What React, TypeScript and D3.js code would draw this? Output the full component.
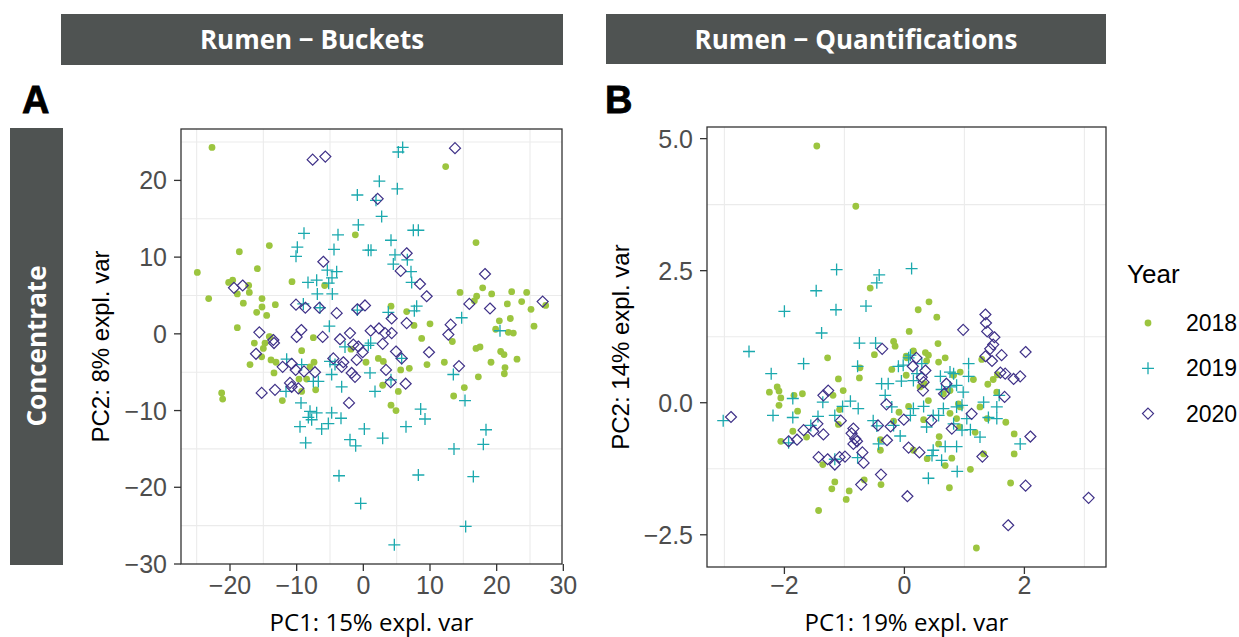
import React from "react";
import * as d3 from "d3";

// Panel A: Rumen - Buckets (PC1 x PC2 scores)
const bucketsX2018 = [-22.7,-24.9,-23.2,-18.6,-14.1,-15.9,-20.2,-19.6,-17.2,-17.1,-18.9,-18.0,-15.2,-15.2,-16.0,-14.5,-13.2,-18.9,-10.7,-5.8,-1.2,-14.0,-7.5,12.35,16.9,14.5,17.9,17.0,16.65,19.25,22.25,24.5,21.6,23.75,25.15,27.35,4.15,6.5,10.0,7.6,20.4,22.05,25.6,19.85,21.75,22.5,8.75,-21.25,-21.1,-16.35,-14.75,-15.0,-15.25,-14.1,-17.0,-13.85,-13.1,-13.4,-12.15,-9.25,-7.4,-8.0,-8.5,-9.65,-9.25,-7.15,-1.85,13.35,16.9,17.5,20.6,21.1,23.05,19.15,21.25,21.15,17.25,15.15,13.55,12.15,9.55,6.9,5.6,2.25,3.0,0.4,5.25,2.9,4.15,4.9];
const bucketsY2018 = [24.3,8.0,4.6,10.7,11.5,8.5,6.7,7.0,6.3,5.4,5.2,4.0,4.6,3.5,2.8,2.4,3.8,0.8,6.8,6.3,12.9,-0.4,-0.5,21.8,11.9,5.4,6.0,4.9,4.3,5.2,5.5,5.4,3.9,4.2,3.2,3.7,3.6,2.9,1.3,1.1,1.7,2.0,1.0,0.6,0.2,0.1,-0.6,-7.7,-8.5,-1.2,-1.2,-1.9,-3.0,-0.35,-4.0,-3.4,-3.7,-5.1,-8.7,-2.2,-3.7,-4.3,-5.9,-5.9,-7.5,-7.3,-2.0,-1.0,-1.9,-1.7,-2.3,-2.7,-3.3,-3.7,-4.4,-5.2,-5.6,-7.0,-8.1,-3.7,-4.0,-4.5,-4.7,-3.2,-3.6,-3.7,-7.5,-6.7,-9.3,-10.0];
const bucketsX2019 = [-8.9,-9.9,-10.1,-3.8,-4.4,-0.9,-0.75,-5.4,-4.0,-4.7,-5.2,-8.3,-7.0,-6.9,-4.65,-9.0,-6.5,-0.9,-5.1,5.9,5.25,2.4,5.1,1.9,2.75,7.5,8.25,4.15,0.75,1.15,4.75,4.5,6.6,7.15,7.25,3.75,8.0,7.65,14.75,20.5,-11.5,-9.25,-11.6,-9.35,-8.0,-7.0,-8.25,-7.75,-9.5,-6.25,-5.25,-4.75,-3.35,-8.65,-7.5,-6.75,-5.0,-4.25,-4.75,-3.25,-2.0,-1.15,-3.65,-2.75,-0.4,1.1,0.75,5.75,1.0,4.15,1.75,13.5,15.25,8.6,9.25,6.4,0.15,2.9,18.4,18.0,13.6,8.25,16.5,15.35,4.65];
const bucketsY2019 = [13.1,11.3,10.1,12.9,11.0,18.1,14.2,8.3,8.1,7.3,6.6,6.7,7.0,5.2,5.2,3.9,3.4,3.1,1.0,24.3,23.7,19.9,18.9,17.4,15.3,13.5,13.5,12.2,10.9,10.9,10.3,9.1,9.65,8.1,6.7,2.8,3.6,3.0,2.1,0.4,-3.3,-4.0,-7.5,-9.0,-10.1,-10.3,-10.9,-11.2,-12.1,-12.4,-11.7,-10.3,-11.0,-14.2,-6.2,-6.2,-3.6,-4.0,-5.3,-6.9,-13.8,-14.6,-18.5,-1.7,-22.1,-1.2,-1.5,-3.2,-5.1,-6.0,-7.5,-5.3,-8.7,-9.8,-11.1,-12.1,-12.4,-13.6,-12.5,-14.4,-15.0,-18.4,-18.6,-25.1,-27.5];
const bucketsX2020 = [-7.6,-5.7,-6.0,-19.4,-18.1,-10.1,-8.7,-6.6,-4.0,-0.9,-15.6,-9.3,-10.0,-6.1,-3.5,-2.0,-13.5,13.75,2.15,6.5,5.6,8.5,9.5,18.25,15.9,19.0,26.9,0.25,4.25,6.5,1.1,2.35,3.25,4.25,13.1,12.75,-13.4,-16.1,-12.1,-10.75,-10.15,-11.0,-10.75,-9.75,-15.25,-13.25,-8.9,-7.25,-1.5,-4.5,-3.0,-3.25,-1.0,-1.75,-1.25,-2.15,2.9,-0.75,-0.1,4.9,5.75,9.85,14.35,3.4,4.1,6.35];
const bucketsY2020 = [22.7,23.1,9.4,6.0,6.3,3.8,3.4,3.4,2.7,3.2,0.2,0.5,-0.4,-0.4,-0.7,0.1,-0.8,24.2,17.6,10.5,8.2,6.5,4.9,7.8,3.9,3.3,4.2,3.7,2.0,1.4,0.4,0.7,0.1,0.1,1.2,-0.1,-1.2,-2.6,-4.3,-3.9,-4.7,-6.4,-6.9,-7.1,-7.7,-7.3,-4.9,-5.0,-1.4,-3.2,-3.7,-4.3,-3.4,-5.1,-5.6,-9.0,-1.3,-1.65,-2.4,-2.3,-3.2,-2.4,-4.2,-4.7,-6.3,-6.5];

// Panel B: Rumen - Quantifications
const quantX2018 = [-1.46,-0.81,-0.57,0.08,-0.18,-0.155,0.41,0.23,0.54,0.56,-1.28,-1.1,-1.02,-0.75,-0.74,-0.5,-0.21,0.03,0.03,-2.25,-2.12,-2.09,-2.06,-2.09,-1.84,-1.7,-1.78,-1.19,-1.08,-1.1,-1.86,-1.63,-2.06,-0.09,0.07,-0.18,-0.4,-0.4,-1.36,-1.16,-1.21,-0.92,-0.97,-0.67,-0.39,-1.43,0.15,0.35,0.4,0.04,0.37,0.57,0.68,0.93,0.82,1.15,1.29,1.39,1.48,1.55,1.54,0.33,0.26,0.76,0.65,0.4,0.32,0.76,0.87,0.9,0.93,0.92,1.26,1.38,1.18,1.69,1.83,1.83,0.58,0.57,0.79,0.68,0.38,0.15,1.1,1.32,1.77,0.75,1.2];
const quantY2018 = [4.86,3.72,2.17,1.35,1.16,1.07,1.91,1.76,1.62,1.12,0.85,0.45,0.23,0.47,0.66,0.91,0.63,0.88,0.52,0.2,0.3,0.22,0.09,-0.05,0.14,0.17,-0.16,0.14,-0.13,-0.41,-0.54,-0.65,-0.73,-0.18,-0.07,-0.35,-0.7,-0.9,-1.17,-1.5,-1.63,-1.67,-1.83,-1.46,-1.55,-2.04,0.98,0.95,0.9,0.85,0.79,0.77,0.85,0.58,0.52,0.44,0.82,0.35,0.44,0.53,0.2,0.36,0.3,0.23,0.17,0.04,-0.32,-0.2,-0.3,-0.02,-0.08,-0.46,-0.08,-0.3,-0.56,-0.37,-0.59,-0.97,-0.64,-0.78,-1.05,-1.19,-1.06,-0.9,-1.26,-0.97,-1.52,-1.61,-2.75];
const quantX2019 = [-1.13,-0.42,-0.46,-1.47,-2.0,-1.14,-0.64,-1.38,-0.75,-0.48,0.12,-2.59,-1.68,-2.22,-0.78,-1.86,-1.36,-0.9,-0.77,-1.03,-2.19,-1.86,-1.44,-1.16,-3.02,-1.56,-0.38,-0.27,-0.32,-0.1,-0.05,-0.21,-0.52,-0.46,-0.18,-0.07,-0.43,-1.93,-1.16,-0.78,0.1,0.07,-0.02,0.15,0.29,0.21,0.6,0.76,0.82,1.07,1.07,0.62,0.76,0.87,0.98,1.58,0.32,0.15,0.1,0.48,0.65,0.57,0.87,0.96,1.04,0.82,0.96,1.1,1.26,1.32,1.4,1.54,1.54,0.37,0.68,0.87,0.48,0.46,0.62,0.88,0.4,1.93];
const quantY2019 = [2.52,2.42,2.27,2.12,1.73,1.76,1.83,1.32,1.13,1.13,2.54,0.97,0.74,0.55,0.69,0.08,0.01,0.03,-0.11,-0.07,-0.24,-0.28,-0.26,-0.24,-0.34,-0.43,0.36,0.36,0.14,0.69,0.41,-0.08,-0.34,-0.44,-0.43,-0.63,-0.78,-0.76,-1.07,-1.04,0.9,0.85,0.71,0.42,0.74,0.55,0.5,0.58,0.55,0.74,0.5,0.25,0.3,0.33,0.2,0.14,-0.07,-0.11,-0.24,-0.24,-0.11,-0.24,-0.08,-0.05,-0.3,-0.4,-0.52,-0.51,-0.65,0.01,-0.28,-0.3,-0.08,-0.46,-0.83,-0.83,-0.9,-1.0,-1.09,-1.3,-1.43,-0.78];
const quantX2020 = [-0.37,1.35,1.36,1.38,1.5,1.48,1.43,0.98,2.02,-2.89,-1.27,-1.35,-1.06,-1.45,-1.52,-1.68,-1.79,-1.93,-1.35,-0.85,-0.88,-0.82,-0.85,-0.79,-1.43,-1.28,-1.16,-1.08,-0.99,-0.7,-0.68,-0.72,-0.39,-0.44,-0.29,-0.3,-0.23,-0.01,0.07,0.05,1.35,1.46,1.62,0.2,0.14,0.35,0.29,0.32,0.31,0.7,0.66,1.6,1.68,1.82,1.93,1.67,1.12,0.45,0.79,0.25,1.3,2.1,2.02,1.73,3.07];
const quantY2020 = [1.02,1.67,1.51,1.35,1.24,1.1,1.02,1.38,0.96,-0.27,0.23,0.14,-0.34,-0.4,-0.54,-0.52,-0.7,-0.73,-0.6,-0.49,-0.58,-0.68,-0.78,-0.73,-1.03,-1.07,-1.17,-1.03,-1.02,-0.94,-1.14,-1.55,-1.36,-0.43,-0.71,-0.03,-0.45,-0.32,-0.85,-1.77,0.88,0.79,0.9,0.85,0.69,0.61,0.48,0.39,0.23,0.36,0.17,0.57,0.55,0.45,0.5,0.11,-0.21,-0.34,-0.49,-0.94,-1.02,-0.64,-1.57,-2.32,-1.8];

const years = ["2018", "2019", "2020"];
const bucketsXTicks = [-20, -10, 0, 10, 20, 30];
const bucketsYTicks = [-30, -20, -10, 0, 10, 20];
const quantXTicks = [-2, 0, 2];
const quantYTicks = [-2.5, 0, 2.5, 5];

const GREEN = "#9cc53f";
const TEAL = "#1ba9ae";
const PURPLE = "#3f3188";
const STRIP = "#4f5352";
const TITLE_FONT = "'Open Sans', Lato, sans-serif";
const AXIS_FONT = "'Liberation Sans', Arial, sans-serif";

const zip = (xs: number[], ys: number[]) => xs.map((x, i) => [x, ys[i]] as [number, number]);

const Marker = ({ year, x, y }: { year: string; x: number; y: number }) => {
  if (year === "2018") return <circle cx={x} cy={y} r={3.4} fill={GREEN} />;
  if (year === "2019")
    return <path d={`M${x - 6},${y}H${x + 6}M${x},${y - 6}V${y + 6}`} stroke={TEAL} strokeWidth={1.3} fill="none" />;
  return (
    <path d={`M${x},${y - 5.5}L${x + 5.5},${y}L${x},${y + 5.5}L${x - 5.5},${y}Z`} stroke={PURPLE} strokeWidth={1.2} fill="none" />
  );
};

const fmt = (d: number, dec: number) => (d < 0 ? "\u2212" : "") + Math.abs(d).toFixed(dec);

interface PanelProps {
  box: { left: number; right: number; top: number; bottom: number };
  xDomain: [number, number];
  yDomain: [number, number];
  xTicks: number[];
  yTicks: number[];
  dec: number;
  series: [number, number][][];
  xTitle: string;
  yTitle: string;
  yTitleX: number;
}

const TICK = 7;

const Panel = ({ box, xDomain, yDomain, xTicks, yTicks, dec, series, xTitle, yTitle, yTitleX }: PanelProps) => {
  const x = d3.scaleLinear().domain(xDomain).range([box.left, box.right]);
  const y = d3.scaleLinear().domain(yDomain).range([box.bottom, box.top]);
  // only the minor grid (between major ticks) is visible
  const xStep = xTicks[1] - xTicks[0];
  const yStep = yTicks[1] - yTicks[0];
  const xMinor = d3.range(xTicks[0] - xStep * 2 + xStep / 2, xTicks[xTicks.length - 1] + xStep * 2, xStep).filter((v) => v > xDomain[0] && v < xDomain[1]);
  const yMinor = d3.range(yTicks[0] - yStep * 2 + yStep / 2, yTicks[yTicks.length - 1] + yStep * 2, yStep).filter((v) => v > yDomain[0] && v < yDomain[1]);
  const cx = (box.left + box.right) / 2;
  const cy = (box.top + box.bottom) / 2;
  return (
    <g>
      {xMinor.map((v) => (
        <line key={"gx" + v} x1={x(v)} x2={x(v)} y1={box.top} y2={box.bottom} stroke="#ebebeb" strokeWidth={1.1} />
      ))}
      {yMinor.map((v) => (
        <line key={"gy" + v} x1={box.left} x2={box.right} y1={y(v)} y2={y(v)} stroke="#ebebeb" strokeWidth={1.1} />
      ))}
      {series.map((pts, si) =>
        pts.map(([a, b], i) => <Marker key={si + "-" + i} year={years[si]} x={x(a)} y={y(b)} />)
      )}
      <rect x={box.left} y={box.top} width={box.right - box.left} height={box.bottom - box.top} fill="none" stroke="#333333" strokeWidth={1.3} />
      {xTicks.map((v) => (
        <g key={"xt" + v}>
          <line x1={x(v)} x2={x(v)} y1={box.bottom} y2={box.bottom + TICK} stroke="#333333" strokeWidth={1.3} />
          <text x={x(v)} y={594} textAnchor="middle" fontSize={25} fill="#4d4d4d" fontFamily={AXIS_FONT}>
            {fmt(v, 0)}
          </text>
        </g>
      ))}
      {yTicks.map((v) => (
        <g key={"yt" + v}>
          <line x1={box.left - TICK} x2={box.left} y1={y(v)} y2={y(v)} stroke="#333333" strokeWidth={1.3} />
          <text x={box.left - 14} y={y(v) + 9} textAnchor="end" fontSize={25} fill="#4d4d4d" fontFamily={AXIS_FONT}>
            {fmt(v, dec)}
          </text>
        </g>
      ))}
      <text x={cx} y={631} textAnchor="middle" fontSize={24} fill="#000" fontFamily={TITLE_FONT}>
        {xTitle}
      </text>
      <text transform={`translate(${yTitleX},${cy}) rotate(-90)`} textAnchor="middle" fontSize={24} fill="#000" fontFamily={AXIS_FONT}>
        {yTitle}
      </text>
    </g>
  );
};

export default function App() {
  const boxA = { left: 181, right: 562, top: 129, bottom: 564 };
  const boxB = { left: 707, right: 1106, top: 127, bottom: 567 };
  return (
    <svg width={1239} height={637} style={{ position: "absolute", left: 0, top: 0, background: "#fff" }}>
      {/* column strips */}
      <rect x={61} y={14} width={502} height={51} fill={STRIP} />
      <text x={312} y={49} textAnchor="middle" fontSize={26} fontWeight="bold" fill="#fff" fontFamily={TITLE_FONT}>
        Rumen − Buckets
      </text>
      <rect x={606} y={14} width={500} height={50} fill={STRIP} />
      <text x={856} y={49} textAnchor="middle" fontSize={26} fontWeight="bold" fill="#fff" fontFamily={TITLE_FONT}>
        Rumen − Quantifications
      </text>
      {/* row strip */}
      <rect x={10} y={128} width={53} height={437} fill={STRIP} />
      <text transform="translate(46,346) rotate(-90)" textAnchor="middle" fontSize={26} fontWeight="bold" fill="#fff" fontFamily={TITLE_FONT}>
        Concentrate
      </text>
      {/* panel tags */}
      <text x={22} y={113} fontSize={38} fontWeight="bold" fill="#000" fontFamily={AXIS_FONT} stroke="#000" strokeWidth={0.8}>A</text>
      <text x={605} y={113} fontSize={38} fontWeight="bold" fill="#000" fontFamily={AXIS_FONT} stroke="#000" strokeWidth={0.8}>B</text>

      <Panel
        box={boxA}
        xDomain={[-27.35, 29.8]}
        yDomain={[-30, 26.7]}
        xTicks={bucketsXTicks}
        yTicks={bucketsYTicks}
        dec={0}
        series={[zip(bucketsX2018, bucketsY2018), zip(bucketsX2019, bucketsY2019), zip(bucketsX2020, bucketsY2020)]}
        xTitle="PC1: 15% expl. var"
        yTitle="PC2: 8% expl. var"
        yTitleX={109}
      />
      <Panel
        box={boxB}
        xDomain={[-3.29, 3.36]}
        yDomain={[-3.11, 5.22]}
        xTicks={quantXTicks}
        yTicks={quantYTicks}
        dec={1}
        series={[zip(quantX2018, quantY2018), zip(quantX2019, quantY2019), zip(quantX2020, quantY2020)]}
        xTitle="PC1: 19% expl. var"
        yTitle="PC2: 14% expl. var"
        yTitleX={629}
      />

      {/* legend */}
      <text x={1127} y={283} fontSize={26} fill="#000" fontFamily={AXIS_FONT}>Year</text>
      {years.map((yr, i) => (
        <g key={yr}>
          <Marker year={yr} x={1148} y={323 + i * 45.3} />
          <text x={1186} y={331} fontSize={23} fill="#000" fontFamily={AXIS_FONT} transform={`translate(0,${i * 45.3})`}>
            {yr}
          </text>
        </g>
      ))}
    </svg>
  );
}
